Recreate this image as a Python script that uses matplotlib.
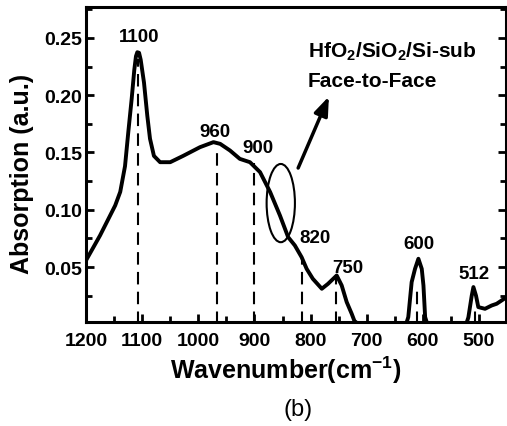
import matplotlib.pyplot as plt
from matplotlib.patches import Ellipse
from matplotlib.ticker import MultipleLocator

plt.rcParams['font.family'] = 'Liberation Sans'
plt.rcParams['mathtext.fontset'] = 'custom'
plt.rcParams['mathtext.rm'] = 'Liberation Sans:bold'
plt.rcParams['mathtext.bf'] = 'Liberation Sans:bold'

# FTIR spectrum
wavenumber = [1200, 1175, 1148, 1139, 1130.5, 1124.6, 1118.6, 1114, 1111, 1108.6, 1105.5, 1102.6,
              1096.7, 1090.8, 1086, 1079, 1068, 1050, 1027, 997, 973, 961,
              943.5, 926, 908, 896, 890, 872, 854.5, 840, 828, 816,
              807, 796, 780, 769, 753.5, 744.6, 735.7, 726.8, 722, 715,
              630, 626, 620, 614, 608, 602, 599, 596, 592, 523,
              519, 513, 510, 505.4, 501.3, 489.4, 477.5, 468.6, 459.7, 451]
absorption = [0.0557, 0.0775, 0.1037, 0.1156, 0.138, 0.168, 0.197, 0.222, 0.234, 0.2375, 0.237, 0.231,
              0.211, 0.182, 0.162, 0.147, 0.1415, 0.1415, 0.147, 0.1546, 0.159, 0.1575,
              0.1517, 0.1444, 0.1415, 0.1357, 0.1328, 0.1154, 0.0949, 0.0761, 0.0688, 0.0586,
              0.0484, 0.0397, 0.031, 0.0353, 0.0426, 0.0339, 0.0194, 0.0092, 0.003, 0.0,
              0.0, 0.0063, 0.0368, 0.0484, 0.0572, 0.0484, 0.0339, 0.0063, 0.0, 0.0,
              0.006, 0.025, 0.0325, 0.025, 0.015, 0.0135, 0.0164, 0.0179, 0.0208, 0.0237]

# dashed markers under the peaks
peak_pos = [1107, 967, 900, 816, 754, 611, 507]
peak_top = [0.232, 0.156, 0.141, 0.059, 0.042, 0.03, 0.014]

# peak labels
label_text = ['1100', '960', '900', '820', '750', '600', '512']
label_x = [1105.6, 970.3, 893.7, 793, 733.4, 606.8, 509]
label_y = [0.2515, 0.1684, 0.154, 0.0759, 0.0497, 0.0702, 0.044]

fig = plt.figure(figsize=(5.07, 4.27), dpi=100)
ax = fig.add_axes([0.1696, 0.2436, 0.8284, 0.7377])

ax.plot(wavenumber, absorption, color='black', lw=2.8, solid_joinstyle='round')
ax.vlines(peak_pos, 0, peak_top, colors='black', linestyles=(0, (6, 3.5)), lw=1.5)

for t, x, y in zip(label_text, label_x, label_y):
    ax.text(x, y, t, ha='center', va='center', fontsize=13.5, fontweight='bold')

ax.text(804.6, 0.234, r'HfO$_{\mathbf{2}}$/SiO$_{\mathbf{2}}$/Si-sub', ha='left', va='baseline',
        fontsize=15, fontweight='bold')
ax.text(804.6, 0.208, 'Face-to-Face', ha='left', va='baseline', fontsize=15, fontweight='bold')

ax.add_patch(Ellipse((853.1, 0.1058), 50.4, 0.0683, fill=False, ec='black', lw=1.5))
ax.annotate('', xy=(765.4, 0.2011), xytext=(824.1, 0.1342),
            arrowprops=dict(arrowstyle='-|>,head_width=0.3,head_length=0.8', color='black',
                            lw=2.5, mutation_scale=14))

ax.set_xlim(1200, 452)
ax.set_ylim(0.002, 0.277)
ax.xaxis.set_major_locator(MultipleLocator(100))
ax.xaxis.set_minor_locator(MultipleLocator(50))
ax.yaxis.set_minor_locator(MultipleLocator(0.025))
ax.set_yticks([0.05, 0.10, 0.15, 0.20, 0.25])
ax.set_yticklabels(['0.05', '0.10', '0.15', '0.20', '0.25'])

ax.tick_params(which='both', direction='in', right=True, top=False, width=2)
ax.tick_params(which='major', length=6, labelsize=14)
ax.tick_params(which='minor', length=4)
ax.tick_params(axis='x', pad=7)
ax.tick_params(axis='y', pad=3)
for lab in ax.get_xticklabels() + ax.get_yticklabels():
    lab.set_fontweight('bold')
for s in ax.spines.values():
    s.set_linewidth(2.2)

fig.text(22 / 507, 1 - 173.5 / 427, 'Absorption (a.u.)', rotation=90, ha='center', va='center',
         fontsize=18, fontweight='bold')
fig.text(286 / 507, 1 - 370 / 427, r'Wavenumber(cm$^{\mathbf{-1}}$)', ha='center', va='center',
         fontsize=18, fontweight='bold')
fig.text(298 / 507, 1 - 410 / 427, '(b)', ha='center', va='center', fontsize=17)

fig.savefig('out.png', dpi=100)
